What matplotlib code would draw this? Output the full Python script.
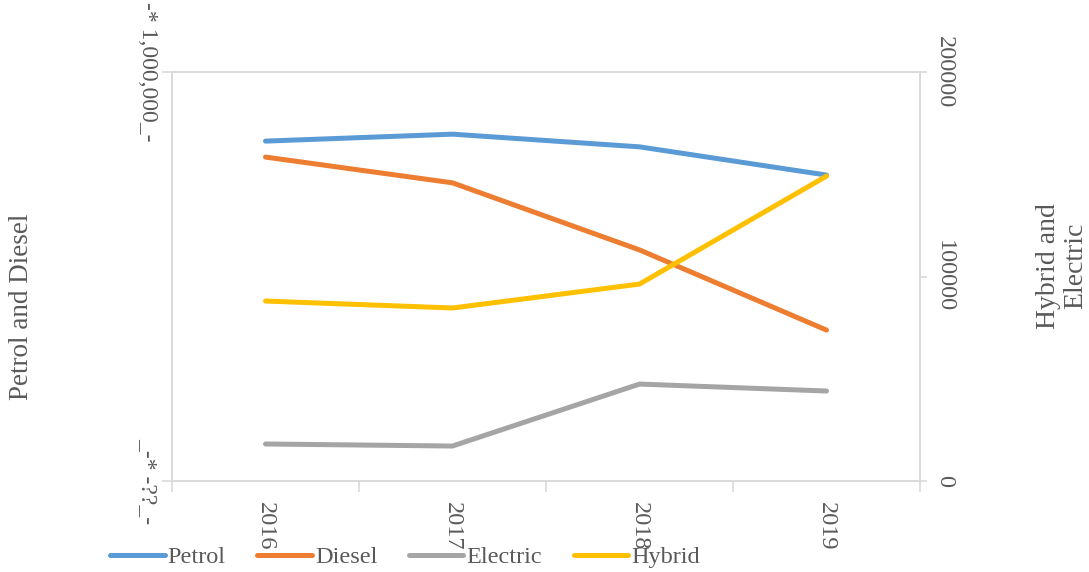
import matplotlib
matplotlib.use("Agg")
import matplotlib.pyplot as plt
from matplotlib.ticker import FixedLocator

years = ["2016", "2017", "2018", "2019"]
petrol = [831000, 848000, 817000, 748000]
diesel = [792000, 729000, 565000, 369000]
electric = [18100, 17100, 47400, 44000]
hybrid = [88000, 84600, 96300, 149100]

left_ticks = [0, 1000000]
left_ticklabels = ["_-* -??_-", "-* 1,000,000_-"]
right_ticks = [0, 100000, 200000]
right_ticklabels = ["0", "100000", "200000"]

plt.rcParams['font.family'] = ['Liberation Serif', 'DejaVu Serif']
txt = '#595959'
axc = '#D9D9D9'

fig = plt.figure(figsize=(10.89, 5.72), dpi=100)
ax1 = fig.add_axes([172/1089, 1-481/572, (920-172)/1089, (481-72)/572])
ax2 = ax1.twinx()

x = list(range(len(years)))
lw = 3.6
l1, = ax1.plot(x, petrol, color='#5B9BD5', lw=lw, solid_capstyle='round', label='Petrol')
l2, = ax1.plot(x, diesel, color='#ED7D31', lw=lw, solid_capstyle='round', label='Diesel')
l3, = ax2.plot(x, electric, color='#A5A5A5', lw=lw, solid_capstyle='round', label='Electric')
l4, = ax2.plot(x, hybrid, color='#FFC000', lw=lw, solid_capstyle='round', label='Hybrid')

ax1.set_xlim(-0.5, 3.5)
ax1.set_ylim(0, 1000000)
ax2.set_ylim(0, 200000)

for a in (ax1, ax2):
    for s in a.spines.values():
        s.set_color(axc)
        s.set_linewidth(1.2)

ax1.set_xticks(x)
ax1.set_xticklabels(years, rotation=270, fontsize=17.5, color=txt, va='top', ha='center')
ax1.xaxis.set_minor_locator(FixedLocator([-0.5, 0.5, 1.5, 2.5, 3.5]))
ax1.tick_params(axis='x', which='major', length=0, pad=15)
ax1.tick_params(axis='x', which='minor', length=8, color=axc, width=1.2)

ax1.set_yticks(left_ticks)
ax1.set_yticklabels(left_ticklabels, rotation=270, fontsize=17, color=txt, va='center')
ax1.tick_params(axis='y', length=7, color=axc, width=1.2, pad=3)

ax2.set_yticks(right_ticks)
ax2.set_yticklabels(right_ticklabels, rotation=270, fontsize=17.5, color=txt, va='center')
ax2.tick_params(axis='y', length=5, color=axc, width=1.2, pad=5)

fig.text(22/1089, 1-307/572, 'Petrol and Diesel', rotation=90, fontsize=19.5, color=txt,
         ha='center', va='center')
fig.text(1062/1089, 1-266/572, 'Hybrid and\nElectric', rotation=90, fontsize=20, color=txt,
         ha='center', va='center', linespacing=1.15)

fig.legend(handles=[l1, l2, l3, l4], loc='center left', bbox_to_anchor=(110/1089, 1-557/572),
           ncol=4, frameon=False, fontsize=17.5, handlelength=2.25, handletextpad=0.12,
           columnspacing=1.3, labelcolor=txt, borderaxespad=0, borderpad=0)

fig.savefig('out.png', dpi=100)
